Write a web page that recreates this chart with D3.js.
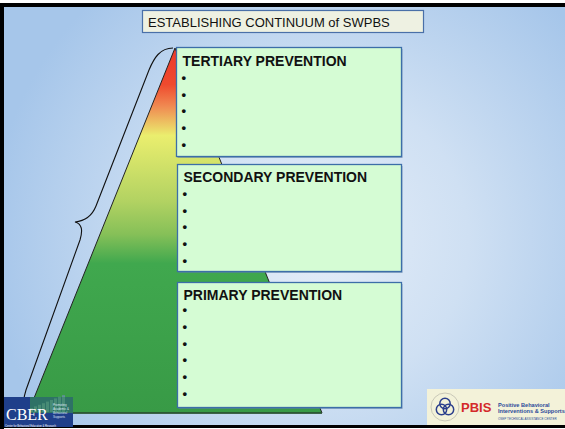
<!DOCTYPE html>
<html>
<head>
<meta charset="utf-8">
<script src="https://cdn.jsdelivr.net/npm/d3@7"></script>
<style>
  html, body { margin: 0; padding: 0; background: #fff; }
  svg { display: block; font-family: Arial, "Liberation Sans", sans-serif; }
</style>
</head>
<body>
<svg id="chart" width="565" height="429"></svg>
<script>
// ---- data ----
const slideTitle = "ESTABLISHING CONTINUUM of SWPBS";
const tiers = ["TERTIARY PREVENTION", "SECONDARY PREVENTION", "PRIMARY PREVENTION"];
const bulletCounts = [5, 5, 6];
const pbisLines = ["Positive Behavioral", "Interventions & Supports"];
const pbisFooter = "OSEP TECHNICAL ASSISTANCE CENTER";
const cberName = "CBER";

// ---- layout ----
const W = 565, H = 429;
const svg = d3.select("#chart");
const defs = svg.append("defs");

// background gradient
const bg = defs.append("radialGradient").attr("id", "bg")
  .attr("gradientUnits", "userSpaceOnUse")
  .attr("cx", 320).attr("cy", 240).attr("r", 330);
[[0, "#e4edf8"], [0.45, "#cfe0f3"], [1, "#a6c6ea"]].forEach(([o, c]) =>
  bg.append("stop").attr("offset", o).attr("stop-color", c));

svg.append("rect").attr("x", 0).attr("y", 0).attr("width", W).attr("height", H).attr("fill", "#fff");
svg.append("rect").attr("x", 4).attr("y", 6).attr("width", W - 4).attr("height", 419).attr("fill", "url(#bg)");
// frame
svg.append("rect").attr("x", 0).attr("y", 3).attr("width", W).attr("height", 4).attr("fill", "#000");
svg.append("rect").attr("x", 0).attr("y", 3).attr("width", 4).attr("height", 426).attr("fill", "#000");
svg.append("rect").attr("x", 0).attr("y", 425).attr("width", W).attr("height", 3).attr("fill", "#000");

// title box
svg.append("rect").attr("x", 142.5).attr("y", 10.5).attr("width", 281).attr("height", 22)
  .attr("fill", "#eef1e2").attr("stroke", "#4a70a8").attr("stroke-width", 1.2);
svg.append("text").attr("x", 148).attr("y", 27).attr("font-size", 13).attr("fill", "#111")
  .text(slideTitle);

// pyramid
const apex = [175, 48], baseY = 413, baseL = 28, baseR = 322;
const py = d3.scaleLinear().domain([0, 1]).range([apex[1], baseY]);
const pg = defs.append("linearGradient").attr("id", "pyr")
  .attr("gradientUnits", "userSpaceOnUse")
  .attr("x1", 0).attr("x2", 0).attr("y1", py(0)).attr("y2", py(1));
[[0, "#ee3a2a"], [0.10, "#ef4a2e"], [0.16, "#f08a52"], [0.24, "#eaee6e"],
 [0.42, "#b2d262"], [0.51, "#86c058"], [0.59, "#40a84e"], [1, "#389a46"]]
  .forEach(([o, c]) => pg.append("stop").attr("offset", o).attr("stop-color", c));

svg.append("path")
  .attr("d", d3.line()([[apex[0], py(0)], [baseR, py(1)], [baseL, py(1)]]) + "Z")
  .attr("fill", "url(#pyr)").attr("stroke", "#222").attr("stroke-width", 1);
svg.append("line").attr("x1", baseL).attr("x2", baseR).attr("y1", baseY).attr("y2", baseY)
  .attr("stroke", "#2d5a35").attr("stroke-width", 1.5);

// brace
svg.append("path")
  .attr("d", "M173,48 C160,48 154,58 149,70 L96,206 C92,216 85,221 75,222 C82,224 83,230 80,240 L26,390 C22,402 24,410 30,414")
  .attr("fill", "none").attr("stroke", "#111").attr("stroke-width", 1.1);

// tier boxes
const boxes = [
  { x: 176.5, y: 47.5, w: 225, h: 109, titleDy: 18, firstDy: 30, step: 16.7 },
  { x: 177.5, y: 164.5, w: 224, h: 107, titleDy: 17, firstDy: 29, step: 16.7 },
  { x: 177.5, y: 282.5, w: 224, h: 125, titleDy: 17, firstDy: 27, step: 16.8 }
];
tiers.forEach((name, i) => {
  const b = boxes[i];
  const g = svg.append("g");
  g.append("rect").attr("x", b.x + 1).attr("y", b.y + 1.5).attr("width", b.w).attr("height", b.h)
    .attr("fill", "#5a7fa8").attr("opacity", 0.6);
  g.append("rect").attr("x", b.x).attr("y", b.y).attr("width", b.w).attr("height", b.h)
    .attr("fill", "#d5fcd4").attr("stroke", "#3c6ea8").attr("stroke-width", 1.3);
  g.append("text").attr("x", b.x + 6).attr("y", b.y + b.titleDy)
    .attr("font-size", 14).attr("font-weight", "bold").attr("fill", "#111").text(name);
  const by = d3.scaleLinear().domain([0, 1]).range([b.y + b.firstDy, b.y + b.firstDy + b.step]);
  g.selectAll("text.bullet").data(d3.range(bulletCounts[i])).enter().append("text")
    .attr("class", "bullet").attr("x", b.x + 5).attr("y", d => by(d) + 4.5)
    .attr("font-size", 13).attr("font-weight", "bold").attr("fill", "#111").text("•");
});

// CBER logo
const cb = svg.append("g");
cb.append("rect").attr("x", 4).attr("y", 397).attr("width", 69).attr("height", 30).attr("fill", "#1f3f8a");
const barsX = d3.range(9);
cb.selectAll("rect.bar").data(barsX).enter().append("rect")
  .attr("x", d => 30 + d * 4).attr("y", d => 412 - (4 + d * 1.6)).attr("width", 3)
  .attr("height", d => 4 + d * 1.6).attr("fill", "#6f8fb8").attr("opacity", 0.7);
cb.append("rect").attr("x", 30).attr("y", 397).attr("width", 43).attr("height", 16)
  .attr("fill", "#3a9c48").attr("opacity", 0.55);
cb.append("text").attr("x", 6).attr("y", 419.5).attr("font-family", "Liberation Serif, serif")
  .attr("font-size", 16).attr("fill", "#fff").text(cberName);
cb.append("text").attr("x", 53).attr("y", 406).attr("font-size", 3).attr("fill", "#dfe8f5").text("Promoting");
cb.append("text").attr("x", 53).attr("y", 410).attr("font-size", 3).attr("fill", "#dfe8f5").text("Academic &");
cb.append("text").attr("x", 53).attr("y", 414).attr("font-size", 3).attr("fill", "#dfe8f5").text("Behavioral");
cb.append("text").attr("x", 53).attr("y", 418).attr("font-size", 3).attr("fill", "#dfe8f5").text("Supports");
cb.append("text").attr("x", 5).attr("y", 426.5).attr("font-size", 2.6).attr("fill", "#fff")
  .text("Center for Behavioral Education & Research");

// PBIS logo
const pb = svg.append("g");
pb.append("rect").attr("x", 427).attr("y", 389).attr("width", 138).attr("height", 36).attr("fill", "#f3f2d9");
pb.append("circle").attr("cx", 445).attr("cy", 407).attr("r", 14).attr("fill", "none")
  .attr("stroke", "#c9c8b8").attr("stroke-width", 1);
[[445, 403.5], [441.5, 409.5], [448.5, 409.5]].forEach(([cx, cy]) =>
  pb.append("circle").attr("cx", cx).attr("cy", cy).attr("r", 5.2).attr("fill", "none")
    .attr("stroke", "#2b3f8c").attr("stroke-width", 1.5));
pb.append("text").attr("x", 461).attr("y", 412).attr("font-size", 13).attr("font-weight", "bold")
  .attr("fill", "#d42a2a").text("PBIS");
pbisLines.forEach((t, i) => pb.append("text").attr("x", 498).attr("y", 407 + i * 5.5)
  .attr("font-size", 5.6).attr("font-weight", "bold").attr("fill", "#2b4a9a").text(t));
pb.append("text").attr("x", 498).attr("y", 420).attr("font-size", 3).attr("fill", "#2b4a9a")
  .text(pbisFooter);
</script>
</body>
</html>
